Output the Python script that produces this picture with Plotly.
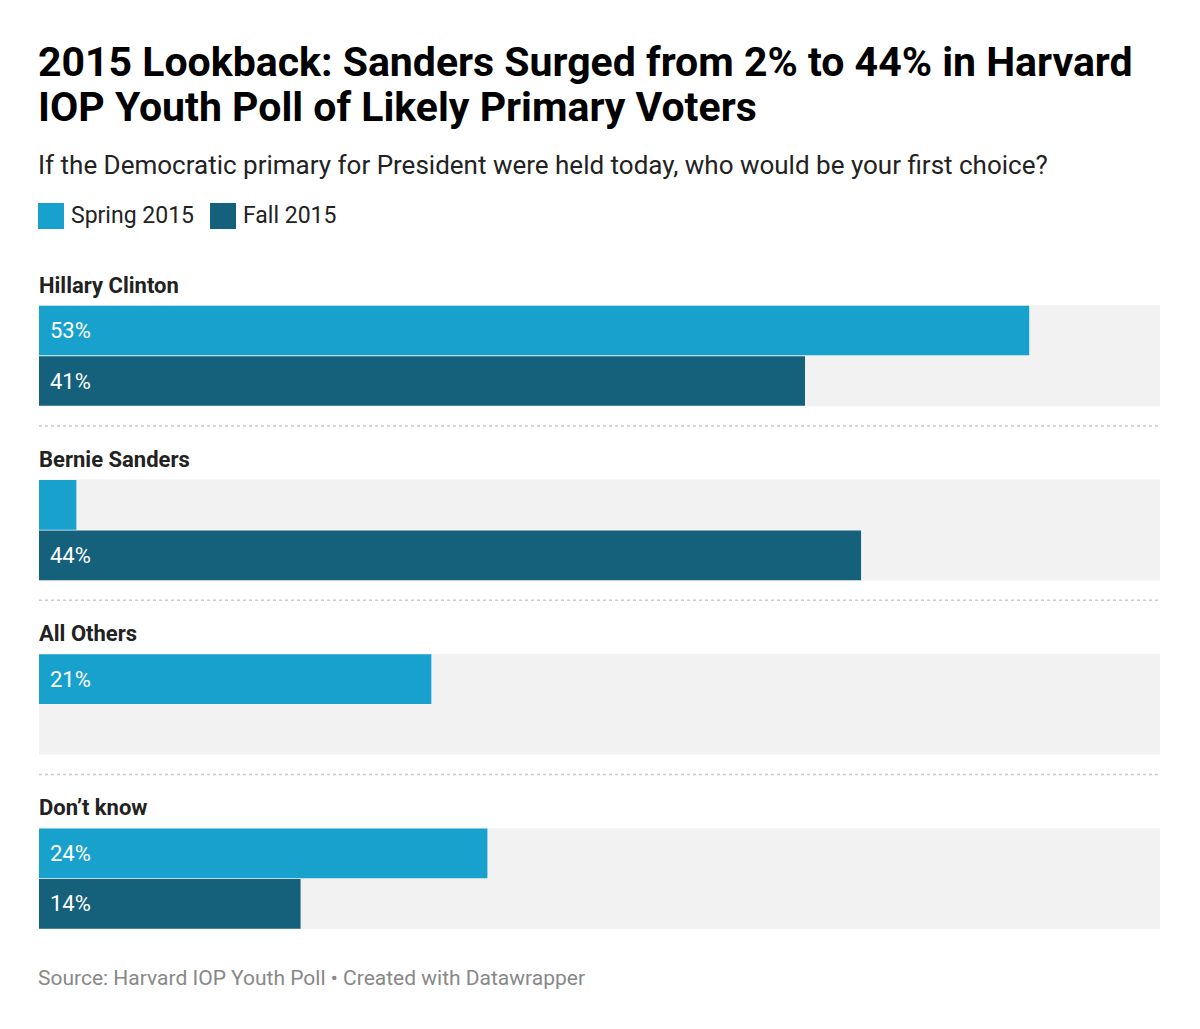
import plotly.graph_objects as go

categories = ["Hillary Clinton", "Bernie Sanders", "All Others", "Don’t know"]
series_names = ["Spring 2015", "Fall 2015"]
spring_2015 = [53, 2, 21, 24]
fall_2015 = [41, 44, None, 14]
x_max = 60

title_lines = ["2015 Lookback: Sanders Surged from 2% to 44% in Harvard",
               "IOP Youth Poll of Likely Primary Voters"]
subtitle = "If the Democratic primary for President were held today, who would be your first choice?"
footer = "Source: Harvard IOP Youth Poll • Created with Datawrapper"

colors = ["#18a1cd", "#15607a"]
bg_color = "#f2f2f2"
FONT = "Roboto"

OFF = 8  # page body margin
W, H = 1200 - OFF, 1029 - OFF
ML, MR, MT, MB = 39 - OFF, 40, 270 - OFF, 89
PH = H - MT - MB

# layout in bar-height units (one bar = 50.5 px)
UNIT = 50.5
pitch = 174.3 / UNIT
label_off = 15 / UNIT
bar_off = 60.5 / UNIT
sep_off = 156 / UNIT
y_total = PH / UNIT

def py(px):
    """screen pixel row -> paper y"""
    return (H - MB - (px - OFF)) / PH

def px_x(px):
    return (px - OFF - ML) / (W - ML - MR)

fig = go.Figure()

# background tracks
bg_y = [i * pitch + bar_off + 0.5 for i in range(len(categories))]
fig.add_trace(go.Bar(x=[x_max] * len(categories), y=bg_y, orientation="h",
                     width=2.0, marker=dict(color=bg_color, line=dict(width=0)),
                     hoverinfo="skip", showlegend=False))

for j, (name, vals) in enumerate(zip(series_names, [spring_2015, fall_2015])):
    ys = [i * pitch + bar_off + j for i in range(len(categories))]
    fig.add_trace(go.Bar(x=vals, y=ys, orientation="h", width=0.985, name=name,
                         marker=dict(color=colors[j], line=dict(width=0)),
                         showlegend=False))
    for v, yv in zip(vals, ys):
        if v is not None and v >= 5:
            fig.add_annotation(x=0, y=yv, xref="x", yref="y", text=f"{v}%",
                               showarrow=False, xanchor="left", yanchor="middle",
                               xshift=9, font=dict(family=FONT, size=22, color="white"))

for i, cat in enumerate(categories):
    fig.add_annotation(x=0, y=i * pitch + label_off, xref="x", yref="y", text=f"<b>{cat}</b>",
                       showarrow=False, xanchor="left", yanchor="middle", xshift=-2,
                       font=dict(family=FONT, size=22, color="#222222"))
    if i < len(categories) - 1:
        yv = i * pitch + sep_off
        fig.add_shape(type="line", xref="x", yref="y", x0=0, x1=x_max, y0=yv, y1=yv,
                      line=dict(color="#cccccc", width=1.5, dash="dot"))

# title / subtitle / footer
fig.add_annotation(xref="paper", yref="paper", x=px_x(36), y=py(62), text=f"<b>{title_lines[0]}</b>",
                   showarrow=False, xanchor="left", yanchor="middle",
                   font=dict(family=FONT, size=41, color="#000000"))
fig.add_annotation(xref="paper", yref="paper", x=px_x(36), y=py(107), text=f"<b>{title_lines[1]}</b>",
                   showarrow=False, xanchor="left", yanchor="middle",
                   font=dict(family=FONT, size=41, color="#000000"))
fig.add_annotation(xref="paper", yref="paper", x=px_x(36), y=py(165), text=subtitle,
                   showarrow=False, xanchor="left", yanchor="middle",
                   font=dict(family=FONT, size=26, color="#222222"))
fig.add_annotation(xref="paper", yref="paper", x=px_x(36), y=py(978), text=footer,
                   showarrow=False, xanchor="left", yanchor="middle",
                   font=dict(family=FONT, size=21, color="#888888"))

# legend
leg_x = [38, 210]
for j, name in enumerate(series_names):
    fig.add_shape(type="rect", xref="paper", yref="paper",
                  x0=px_x(leg_x[j]), x1=px_x(leg_x[j] + 26), y0=py(229), y1=py(203),
                  fillcolor=colors[j], line=dict(width=0))
    fig.add_annotation(xref="paper", yref="paper", x=px_x(leg_x[j] + 31), y=py(216), text=name,
                       showarrow=False, xanchor="left", yanchor="middle",
                       font=dict(family=FONT, size=23, color="#222222"))

fig.update_layout(
    width=W, height=H, barmode="overlay",
    margin=dict(l=ML, r=MR, t=MT, b=MB, pad=0),
    paper_bgcolor="white", plot_bgcolor="white",
    xaxis=dict(range=[0, x_max], visible=False, fixedrange=True),
    yaxis=dict(range=[y_total, 0], visible=False, fixedrange=True),
    font=dict(family=FONT),
    showlegend=False,
)

fig.write_html("out.html", config={"displayModeBar": False})
